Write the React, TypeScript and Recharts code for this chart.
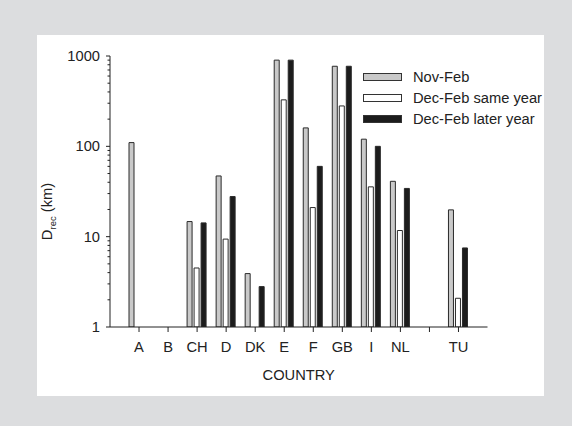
import { Bar, BarChart, XAxis, YAxis } from "recharts"

// countries on the x axis (one unlabeled slot between NL and TU)
const countries = ["A", "B", "CH", "D", "DK", "E", "F", "GB", "I", "NL", "", "TU"]

// D_rec in km, null where no bar is drawn
const novFeb = [110, null, 14.7, 47, 3.9, 900, 160, 770, 120, 41, null, 19.8]
const decFebSame = [null, null, 4.5, 9.4, null, 327, 21, 280, 35.6, 11.7, null, 2.08]
const decFebLater = [null, null, 14.2, 27.8, 2.8, 900, 60, 770, 100, 34.2, null, 7.5]

const yTicks = [1, 2, 3, 4, 5, 6, 7, 8, 9, 10, 20, 30, 40, 50, 60, 70, 80, 90, 100, 200, 300, 400, 500, 600, 700, 800, 900, 1000]
const majorTicks = [1, 10, 100, 1000]

const series = [
  { key: "novFeb", name: "Nov-Feb", fill: "#c9c9c9" },
  { key: "decFebSame", name: "Dec-Feb same year", fill: "#ffffff" },
  { key: "decFebLater", name: "Dec-Feb later year", fill: "#1c1c1c" },
]

const data = countries.map((country, i) => ({
  country,
  novFeb: novFeb[i],
  decFebSame: decFebSame[i],
  decFebLater: decFebLater[i],
}))

const FONT = "'Liberation Sans', Arial, Helvetica, sans-serif"
const FS = 14.7
const INK = "#222"

function YTick(props: any) {
  const { x, y, payload } = props
  const major = majorTicks.includes(payload.value)
  return (
    <g>
      <line x1={x - (major ? 4 : 2.5)} x2={x} y1={y} y2={y} stroke={INK} strokeWidth={1} />
      {major && (
        <text x={x - 10} y={y} dy="0.35em" textAnchor="end" fontSize={FS} fill={INK} fontFamily={FONT}>
          {payload.value}
        </text>
      )}
    </g>
  )
}

function XTick(props: any) {
  const { x, y, payload } = props
  return (
    <g>
      <line x1={x} x2={x} y1={y} y2={y + 5} stroke={INK} strokeWidth={1} />
      <text x={x} y={y + 20} dy="0.35em" textAnchor="middle" fontSize={FS} fill={INK} fontFamily={FONT}>
        {payload.value}
      </text>
    </g>
  )
}

function YLabel(props: any) {
  const { viewBox } = props
  const cx = viewBox.x - 3
  const cy = viewBox.y + viewBox.height / 2 + 20
  return (
    <text
      transform={`translate(${cx},${cy}) rotate(-90)`}
      textAnchor="middle"
      dy="0.35em"
      fontSize={FS}
      fill={INK}
      fontFamily={FONT}
    >
      D
      <tspan fontSize={9.5} dy={4}>rec</tspan>
      <tspan dy={-4}> (km)</tspan>
    </text>
  )
}

function XLabel(props: any) {
  const { viewBox } = props
  return (
    <text
      x={viewBox.x + viewBox.width / 2}
      y={viewBox.y + 48}
      dy="0.35em"
      textAnchor="middle"
      fontSize={FS}
      fill={INK}
      fontFamily={FONT}
    >
      COUNTRY
    </text>
  )
}

function LegendBox() {
  return (
    <div style={{ fontFamily: FONT, fontSize: FS, color: INK }}>
      {series.map((s) => (
        <div key={s.key} style={{ display: "flex", alignItems: "center", height: 21 }}>
          <div
            style={{
              width: 37,
              height: 6,
              background: s.fill,
              border: "1px solid #333",
              marginRight: 11,
            }}
          />
          <span style={{ whiteSpace: "nowrap" }}>{s.name}</span>
        </div>
      ))}
    </div>
  )
}

export default function App() {
  return (
    <div
      style={{
        position: "absolute",
        left: 0,
        top: 0,
        width: 572,
        height: 426,
        background: "#dcdddf",
        overflow: "hidden",
      }}
    >
      <div style={{ position: "absolute", left: 37, top: 35, width: 507, height: 361, background: "#fff" }} />
      <div style={{ position: "absolute", left: 0, top: 0 }}>
        <BarChart
          width={572}
          height={426}
          data={data}
          margin={{ top: 56, right: 84.5, bottom: 69, left: 50 }}
          barCategoryGap={4.5}
          barGap={2}
        >
          <XAxis
            dataKey="country"
            height={30}
            padding={{ left: 14.5, right: 14.5 }}
            axisLine={{ stroke: INK, strokeWidth: 1 }}
            tickLine={false}
            tick={<XTick />}
            tickSize={0}
            tickMargin={0}
            interval={0}
            label={<XLabel />}
          />
          <YAxis
            scale="log"
            domain={[1, 1000]}
            allowDataOverflow
            ticks={yTicks}
            interval={0}
            width={60}
            axisLine={{ stroke: INK, strokeWidth: 1 }}
            tickLine={false}
            tick={<YTick />}
            tickSize={0}
            tickMargin={0}
            label={<YLabel />}
          />
          {series.map((s) => (
            <Bar
              key={s.key}
              dataKey={s.key}
              name={s.name}
              fill={s.fill}
              stroke="#2a2a2a"
              strokeWidth={1}
              isAnimationActive={false}
            />
          ))}
        </BarChart>
      </div>
      <div style={{ position: "absolute", left: 363, top: 66 }}>
        <LegendBox />
      </div>
    </div>
  )
}
